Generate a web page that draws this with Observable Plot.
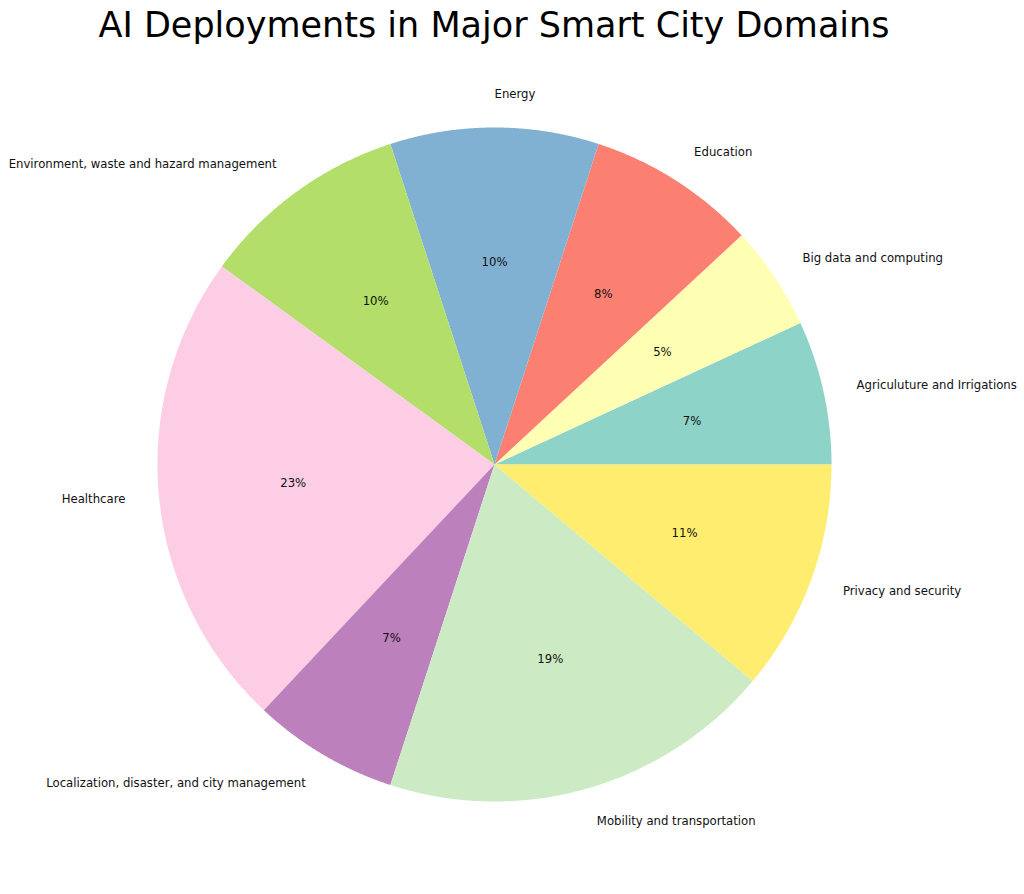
<!DOCTYPE html>
<html>
<head>
<meta charset="utf-8">
<script src="https://cdn.jsdelivr.net/npm/d3@7"></script>
<script src="https://cdn.jsdelivr.net/npm/@observablehq/plot@0.6"></script>
<style>
  html, body { margin: 0; padding: 0; background: #fff; }
  #title { height: 60px; line-height: 50px; text-align: center; font-family: "DejaVu Sans", sans-serif; font-size: 35px; color: #000; width: 988px; padding-top: 0; }
  svg { display: block; }
</style>
</head>
<body>
<div id="title">AI Deployments in Major Smart City Domains</div>
<div id="chart"></div>
<script>
const categories = [
  "Agriculuture and Irrigations",
  "Big data and computing",
  "Education",
  "Energy",
  "Environment, waste and hazard management",
  "Healthcare",
  "Localization, disaster, and city management",
  "Mobility and transportation",
  "Privacy and security"
];
const values = [6.9, 5.0, 8.1, 10.0, 10.0, 23.0, 7.0, 18.9, 11.1];
const colors = ["#8dd3c7", "#ffffb3", "#fb8072", "#80b1d3", "#b3de69", "#fccde5", "#bc80bd", "#ccebc5", "#ffed6f"];

const W = 1024, H = 834;
const cx = 494, cy = 404, R = 337;
const FS = 11.7;

const total = d3.sum(values);
// matplotlib-style: start at 0 rad (3 o'clock), counterclockwise
let cum = 0;
const slices = categories.map((c, i) => {
  const a0 = cum / total * 2 * Math.PI;
  cum += values[i];
  const a1 = cum / total * 2 * Math.PI;
  return {name: c, value: values[i], a0, a1, mid: (a0 + a1) / 2, color: colors[i], pct: values[i] / total * 100};
});

const poly = [];
for (const s of slices) {
  const n = Math.max(2, Math.ceil((s.a1 - s.a0) / 0.005));
  poly.push({name: s.name, x: 0, y: 0});
  for (let k = 0; k <= n; k++) {
    const a = s.a0 + (s.a1 - s.a0) * k / n;
    poly.push({name: s.name, x: Math.cos(a), y: Math.sin(a)});
  }
  poly.push({name: s.name, x: 0, y: 0});
}

const outer = slices.map(s => ({
  name: s.name, x: 1.1 * Math.cos(s.mid), y: 1.1 * Math.sin(s.mid),
  anchor: Math.cos(s.mid) >= 0 ? "start" : "end"
}));
const inner = slices.map(s => ({
  label: d3.format(".0f")(s.pct) + "%", x: 0.6 * Math.cos(s.mid), y: 0.6 * Math.sin(s.mid)
}));

const chart = Plot.plot({
  width: W, height: H,
  margin: 0,
  x: {domain: [-cx / R, (W - cx) / R], range: [0, W], axis: null},
  y: {domain: [-(H - cy) / R, cy / R], range: [H, 0], axis: null},
  color: {domain: categories, range: colors},
  style: {fontFamily: "DejaVu Sans, sans-serif", fontSize: FS + "px", background: "#fff"},
  marks: [
    Plot.line(poly, {x: "x", y: "y", z: "name", fill: "name", stroke: "none", curve: "linear"}),
    Plot.text(outer.filter(d => d.anchor === "start"), {x: "x", y: "y", text: "name", textAnchor: "start", fill: "#111", fontSize: FS}),
    Plot.text(outer.filter(d => d.anchor === "end"), {x: "x", y: "y", text: "name", textAnchor: "end", fill: "#111", fontSize: FS}),
    Plot.text(inner, {x: "x", y: "y", text: "label", fill: "#111", fontSize: FS})
  ]
});
document.getElementById("chart").appendChild(chart);
</script>
</body>
</html>
